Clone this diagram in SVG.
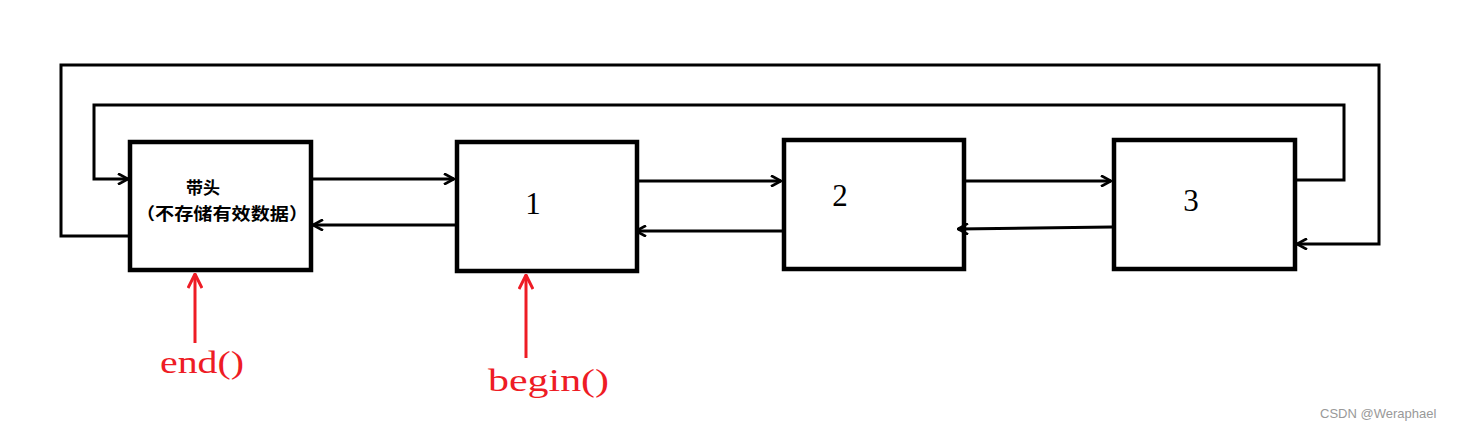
<svg xmlns="http://www.w3.org/2000/svg" width="1457" height="430" viewBox="0 0 1457 430">
<style>
.box{fill:#fff;stroke:#000;stroke-width:4.5}
.ln{fill:none;stroke:#000;stroke-width:3;stroke-linejoin:miter}
.red{fill:none;stroke:#ee1c25;stroke-width:3}
.num{font-family:"Liberation Serif",serif;font-size:31px;fill:#000}
.cn{font-family:"Noto Sans CJK SC",sans-serif;font-size:17px;font-weight:bold;fill:#000}
.rt{font-family:"Liberation Serif",serif;font-size:31px;fill:#ee1c25}
.wm{font-family:"Liberation Sans",Arial,sans-serif;font-size:13px;fill:#999}
</style>
<defs>
<marker id="ah" viewBox="0 0 12 12" refX="11" refY="6" markerWidth="12" markerHeight="12" markerUnits="userSpaceOnUse" orient="auto">
<path d="M1,0.5 L11,6 L1,11.5" fill="none" stroke="#000" stroke-width="2.6"/>
</marker>
<marker id="rah" viewBox="0 0 16 16" refX="15" refY="8" markerWidth="16" markerHeight="16" markerUnits="userSpaceOnUse" orient="auto">
<path d="M1,1 L15,8 L1,15" fill="none" stroke="#ee1c25" stroke-width="3"/>
</marker>
</defs>
<rect width="1457" height="430" fill="#fff"/>
<g id="node-head">
<rect class="box" x="130" y="142" width="181" height="128"/>
<text class="cn" x="186" y="194">带头</text>
<text class="cn" x="136" y="220" textLength="172" lengthAdjust="spacingAndGlyphs">（不存储有效数据）</text>
</g>
<g id="node-1">
<rect class="box" x="457" y="142" width="180" height="129"/>
<text class="num" x="533" y="214" text-anchor="middle">1</text>
</g>
<g id="node-2">
<rect class="box" x="784" y="140" width="180" height="129"/>
<text class="num" x="840" y="206" text-anchor="middle">2</text>
</g>
<g id="node-3">
<rect class="box" x="1114" y="140" width="181" height="129"/>
<text class="num" x="1191" y="211" text-anchor="middle">3</text>
</g>
<g id="connectors">
<polyline class="ln" points="128,236 61,236 61,65 1379,65 1379,244 1297,244" marker-end="url(#ah)"/>
<polyline class="ln" points="1297,180 1344,180 1344,105 94,105 94,179 128,179" marker-end="url(#ah)"/>
<line class="ln" x1="313" y1="179" x2="454" y2="179" marker-end="url(#ah)"/>
<line class="ln" x1="455" y1="225" x2="313" y2="225" marker-end="url(#ah)"/>
<line class="ln" x1="639" y1="181" x2="781" y2="181" marker-end="url(#ah)"/>
<line class="ln" x1="782" y1="231" x2="636" y2="231" marker-end="url(#ah)"/>
<line class="ln" x1="966" y1="181" x2="1111" y2="181" marker-end="url(#ah)"/>
<line class="ln" x1="1112" y1="227" x2="958" y2="229" marker-end="url(#ah)"/>
<line class="red" x1="195" y1="343" x2="195" y2="274" marker-end="url(#rah)"/>
<line class="red" x1="526" y1="358" x2="526" y2="275" marker-end="url(#rah)"/>
</g>
<g id="label-end">
<text class="rt" x="160" y="373" textLength="84" lengthAdjust="spacingAndGlyphs">end()</text>
</g>
<g id="label-begin">
<text class="rt" x="488" y="391" textLength="121" lengthAdjust="spacingAndGlyphs">begin()</text>
</g>
<text class="wm" x="1320" y="418">CSDN @Weraphael</text>
</svg>
